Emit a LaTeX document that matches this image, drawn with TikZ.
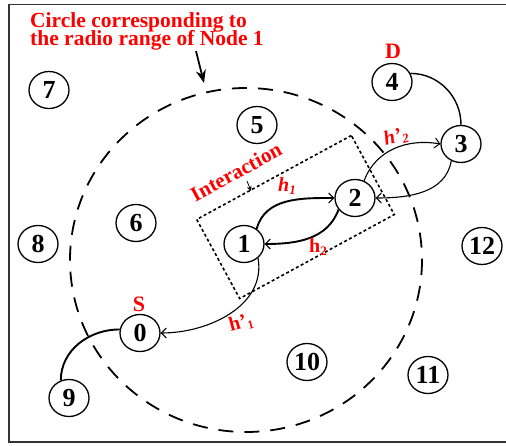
\documentclass[tikz,border=0pt]{standalone}
\usepackage{fontspec}
\setmainfont{Liberation Serif}
\usetikzlibrary{arrows.meta,shapes.geometric}
\begin{document}
\begin{tikzpicture}[x=1pt,y=-1pt,
  nd/.style={draw, line width=1.3pt, ellipse, inner sep=0pt, minimum width=40pt, minimum height=37pt, fill=white, font=\bfseries\fontsize{26}{26}\selectfont},
  redlbl/.style={text=red, font=\bfseries\fontsize{22}{22}\selectfont},
  hlbl/.style={text=red, font=\bfseries\fontsize{20}{20}\selectfont, inner sep=0pt},
  barb/.style={-{Straight Barb[length=5pt,width=10pt,line width=1pt]}},
  thick link/.style={line width=1.9pt},
  thin link/.style={line width=1.1pt}
]
\useasboundingbox (0,0) rectangle (506,446);
% frame
\draw[line width=1.8pt, draw=black!80] (506,4.5) -- (9,4.5) -- (9,442) -- (506,442);
% radio range circle
\draw[line width=1.8pt, dash pattern=on 15pt off 11pt] (246,260) ellipse [x radius=176, y radius=172];
% interaction box
\node[draw, line width=1.6pt, dash pattern=on 3pt off 2.5pt, rotate=28.5, minimum width=176pt, minimum height=90pt, inner sep=0pt] (box) at (295.5,217) {};
% nodes
\node[nd] (n7) at (49,90) {7};
\node[nd] (n4) at (392,82) {4};
\node[nd] (n5) at (257,125) {5};
\node[nd] (n3) at (461,144) {3};
\node[nd] (n2) at (355,198) {2};
\node[nd] (n6) at (136,223) {6};
\node[nd] (n1) at (244,244) {1};
\node[nd] (n8) at (38,244) {8};
\node[nd] (n12) at (482,246) {12};
\node[nd] (n0) at (140,333) {0};
\node[nd] (n10) at (307,362) {10};
\node[nd] (n11) at (428,375) {11};
\node[nd] (n9) at (69,398) {9};
% title
\node[redlbl, font=\bfseries\fontsize{21.5}{21.5}\selectfont, align=left, inner sep=0pt, anchor=north west] (title) at (30,12) {Circle corresponding to\\[-3pt]the radio range of Node 1};
\coordinate (ta) at (196,51);
\coordinate (tb) at (204,83);
\draw[line width=1.8pt, -{Stealth[length=13pt,width=10pt]}] (ta) -- (tb);
% S and D
\node[redlbl] (S) at (139,304) {S};
\node[redlbl] (D) at (393,51) {D};
% Interaction
\node[redlbl, font=\bfseries\fontsize{21}{21}\selectfont, rotate=28.5, inner sep=0pt] (inter) at (236,172) {Interaction};
\coordinate (ia) at (247,181);
\coordinate (ib) at (251,191);
\draw[line width=0.8pt, -{Stealth[length=5pt,width=5pt]}] (ia) -- (ib);
% links
\draw[thick link, barb] (n1.50) to[out=75, in=180] (n2.west);
\draw[thick link, barb] (n2.215) to[out=250, in=0] (n1.east);
\draw[thin link, barb] (n1.-45) to[out=-80, in=0] (n0.east);
\draw[thick link] (n9.115) to[out=90, in=180] (n0.170);
\draw[line width=1.4pt] (n4.25) to[out=0, in=90] (n3.north);
\draw[thin link, barb] (n2.62) to[out=70, in=170] (n3.west);
\draw[thin link, barb] (n3.240) to[out=-100, in=0] (n2.east);
% h labels
\node[hlbl] (h1) at (287,186) {\itshape h\raisebox{-0.35ex}{\fontsize{13}{13}\selectfont 1}};
\node[hlbl] (h2) at (318,247) {h\raisebox{-0.35ex}{\fontsize{13}{13}\selectfont 2}};
\node[hlbl, rotate=15] (hp2) at (396,137) {\itshape h'\raisebox{-0.35ex}{\fontsize{13}{13}\selectfont 2}};
\node[hlbl, rotate=15] (hp1) at (241,323) {h'\raisebox{-0.35ex}{\fontsize{12}{12}\selectfont 1}};
\end{tikzpicture}
\end{document}
